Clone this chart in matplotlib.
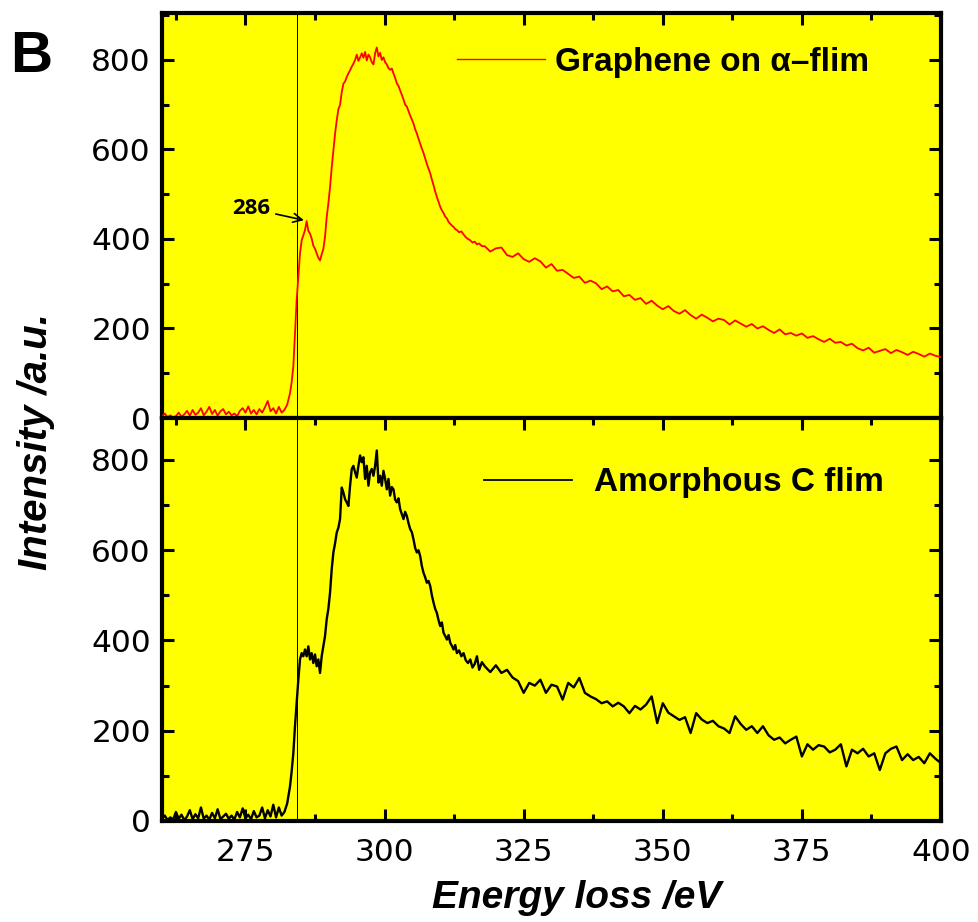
"""
EELS carbon K-edge: graphene on an amorphous-carbon film (top) vs. the bare
amorphous C film (bottom). Two stacked panels on a shared energy-loss axis.
Values were read off the published figure by eye.
"""
import matplotlib
matplotlib.use("Agg")
import matplotlib.pyplot as plt
from matplotlib.lines import Line2D
from matplotlib.ticker import MultipleLocator

# ----------------------------------------------------------------------------
# Energy grids (eV): pre-edge baseline, edge + main peak, post-peak tail
# ----------------------------------------------------------------------------
base_ev = [260.0, 260.5, 261.0, 261.5, 262.0, 262.5, 263.0, 263.5, 264.0, 264.5,
           265.0, 265.5, 266.0, 266.5, 267.0, 267.5, 268.0, 268.5, 269.0, 269.5,
           270.0, 270.5, 271.0, 271.5, 272.0, 272.5, 273.0, 273.5, 274.0, 274.5,
           275.0, 275.5, 276.0, 276.5, 277.0, 277.5, 278.0, 278.5, 279.0, 279.5,
           280.0, 280.5, 281.0, 281.5]
edge_ev = [282.0, 282.5,
           283.0, 283.3, 283.6, 283.9, 284.2, 284.5, 284.8, 285.1, 285.4, 285.7,
           286.0, 286.3, 286.6, 286.9, 287.2, 287.5, 287.8, 288.1, 288.4, 288.7,
           289.0, 289.3, 289.6, 289.9, 290.2, 290.5, 290.8, 291.1, 291.4, 291.7,
           292.0, 292.3, 292.6, 292.9, 293.2, 293.5, 293.8, 294.1, 294.4, 294.7,
           295.0, 295.3, 295.6, 295.9, 296.2, 296.5, 296.8, 297.1, 297.4, 297.7,
           298.0, 298.3, 298.6, 298.9, 299.2, 299.5, 299.8, 300.1, 300.4, 300.7,
           301.0, 301.3, 301.6, 301.9, 302.2, 302.5, 302.8, 303.1, 303.4, 303.7,
           304.0, 304.3, 304.6, 304.9, 305.2, 305.5, 305.8, 306.1, 306.4, 306.7,
           307.0, 307.3, 307.6, 307.9, 308.2, 308.5, 308.8, 309.1, 309.4, 309.7,
           310.0, 310.3, 310.6, 310.9, 311.2, 311.5, 311.8, 312.1, 312.4, 312.7,
           313.0, 313.4, 313.8, 314.2, 314.6, 315.0, 315.4, 315.8, 316.2, 316.6,
           317.0, 317.5]
tail_ev = [318, 319, 320, 321, 322, 323, 324, 325, 326, 327,
           328, 329, 330, 331, 332, 333, 334, 335, 336, 337,
           338, 339, 340, 341, 342, 343, 344, 345, 346, 347,
           348, 349, 350, 351, 352, 353, 354, 355, 356, 357,
           358, 359, 360, 361, 362, 363, 364, 365, 366, 367,
           368, 369, 370, 371, 372, 373, 374, 375, 376, 377,
           378, 379, 380, 381, 382, 383, 384, 385, 386, 387,
           388, 389, 390, 391, 392, 393, 394, 395, 396, 397,
           398, 399, 400]

# Graphene on alpha-film (red, top panel)
gr_base = [3, 10, 2, 6, 1, 4, 12, 3, 8, 16,
           5, 18, 7, 12, 22, 6, 14, 25, 9, 18,
           5, 15, 20, 8, 14, 6, 10, 4, 16, 22,
           12, 26, 10, 18, 8, 20, 12, 24, 38, 15,
           22, 10, 25, 12]
gr_edge = [18, 30,
           55, 80, 115, 189, 263, 315, 368, 397, 408, 420,
           440, 418, 412, 401, 385, 378, 368, 358, 352, 366,
           378, 405, 449, 480, 516, 560, 598, 635, 665, 690,
           700, 728, 747, 752, 762, 770, 777, 785, 792, 800,
           812, 798, 806, 815, 805, 818, 799, 812, 806, 795,
           790, 815, 828, 808, 816, 800, 806, 795, 790, 782,
           778, 781, 770, 760, 748, 742, 732, 722, 712, 700,
           696, 686, 676, 667, 658, 645, 636, 624, 613, 602,
           592, 580, 568, 557, 547, 533, 520, 506, 494, 483,
           472, 464, 458, 450, 446, 438, 434, 430, 427, 422,
           420, 415, 417, 410, 404, 400, 397, 392, 394, 388,
           390, 384]
gr_tail = [384, 372, 379, 381, 364, 360, 368, 355, 349, 357,
           350, 336, 344, 329, 331, 322, 313, 316, 302, 307,
           301, 288, 294, 283, 286, 272, 275, 264, 268, 255,
           262, 251, 243, 250, 239, 233, 241, 230, 222, 231,
           224, 216, 222, 219, 209, 218, 211, 204, 210, 200,
           205, 197, 190, 198, 187, 190, 184, 189, 179, 183,
           176, 170, 177, 168, 170, 162, 166, 156, 151, 157,
           146, 150, 154, 145, 152, 147, 141, 148, 143, 137,
           144, 139, 136]

# Amorphous C film (black, bottom panel)
ac_base = [4, 12, 2, 8, 3, 20, 5, 14, 2, 10,
           24, 4, 15, 6, 30, 5, 12, 3, 18, 6,
           26, 4, 10, 16, 5, 12, 3, 20, 8, 28,
           6, 14, 4, 22, 8, 12, 30, 6, 24, 10,
           36, 8, 30, 12]
ac_edge = [20, 39,
           76, 110, 150, 210, 261, 313, 358, 372, 365, 380,
           365, 387, 358, 372, 350, 369, 343, 358, 328, 365,
           387, 410, 447, 470, 506, 558, 595, 615, 639, 650,
           669, 739, 728, 713, 706, 698, 743, 780, 787, 773,
           761, 787, 810, 795, 806, 758, 787, 743, 773, 780,
           765, 787, 821, 750, 765, 743, 776, 758, 735, 758,
           721, 740, 735, 712, 706, 715, 691, 680, 669, 685,
           676, 660, 647, 640, 624, 605, 595, 600, 587, 565,
           550, 540, 528, 532, 521, 500, 484, 470, 461, 445,
           432, 440, 417, 410, 402, 412, 395, 388, 380, 390,
           372, 378, 365, 372, 356, 350, 358, 340, 348, 365,
           335, 352]
ac_tail = [343, 330, 345, 328, 335, 318, 310, 284, 306, 300,
           313, 284, 302, 298, 269, 306, 296, 317, 284, 276,
           270, 261, 265, 254, 262, 254, 239, 255, 247, 258,
           276, 217, 261, 240, 232, 224, 230, 195, 239, 225,
           217, 222, 210, 205, 195, 232, 215, 202, 210, 195,
           210, 190, 180, 185, 172, 180, 187, 143, 170, 158,
           168, 165, 152, 158, 170, 121, 158, 150, 160, 143,
           150, 113, 150, 160, 165, 135, 148, 135, 142, 128,
           150, 138, 128]

energy = base_ev + edge_ev + tail_ev
graphene = gr_base + gr_edge + gr_tail
amorphous = ac_base + ac_edge + ac_tail
assert len(energy) == len(graphene) == len(amorphous)

onset_ev = 284.3          # thin vertical guide through both panels
peak_label, peak_xy, peak_text_xy = "286", (285.5, 442), (272.6, 468)

YELLOW = "#ffff00"
RED = "#ff0000"

# ----------------------------------------------------------------------------
# Figure
# ----------------------------------------------------------------------------
W, H = 979, 922
fig = plt.figure(figsize=(W / 100, H / 100), dpi=100)
left, right = 162 / W, 941 / W
ax1 = fig.add_axes([left, 1 - 418 / H, right - left, (418 - 13) / H])
ax2 = fig.add_axes([left, 1 - 821 / H, right - left, (821 - 418) / H], sharex=ax1)

ax1.plot(energy, graphene, color=RED, lw=1.3, zorder=3)
ax2.plot(energy, amorphous, color="black", lw=1.7, zorder=3)

for ax in (ax1, ax2):
    ax.set_facecolor(YELLOW)
    ax.axvline(onset_ev, color="black", lw=0.7, zorder=2)
    for sp in ax.spines.values():
        sp.set_linewidth(3)
    ax.xaxis.set_major_locator(MultipleLocator(25))
    ax.xaxis.set_minor_locator(MultipleLocator(12.5))
    ax.yaxis.set_major_locator(MultipleLocator(200))
    ax.yaxis.set_minor_locator(MultipleLocator(100))
    ax.tick_params(which="both", direction="in", top=True, right=True,
                   width=2.2, labelsize=22.5, pad=8)
    ax.tick_params(which="major", length=8.5)
    ax.tick_params(which="minor", length=5)

ax1.set_xlim(260, 400)
ax1.set_ylim(0, 905)
ax2.set_ylim(0, 893)
ax1.tick_params(axis="x", which="both", bottom=False, labelbottom=False)
ax2.tick_params(axis="x", which="both", pad=12)

# peak marker on the graphene spectrum
ax1.annotate(peak_label, xy=peak_xy, xytext=peak_text_xy, ha="left", va="center",
             fontsize=16, weight="bold", family=["Open Sans", "DejaVu Sans"],
             arrowprops=dict(arrowstyle="->", color="black", lw=1.2,
                             shrinkA=2, shrinkB=0))

# legends (one per panel)
leg_font = dict(family=["Liberation Sans", "DejaVu Sans"], weight="bold", size=24)
ax1.legend([Line2D([], [], color=RED, lw=1.0)], ["Graphene on α–flim"],
           loc="center", bbox_to_anchor=(0.643, 0.879), frameon=False,
           prop=leg_font, handlelength=2.64, handletextpad=0.3,
           borderpad=0, borderaxespad=0)
ax2.legend([Line2D([], [], color="black", lw=1.3)], ["Amorphous C flim"],
           loc="center", bbox_to_anchor=(0.670, 0.839), frameon=False,
           prop=leg_font, handlelength=2.64, handletextpad=0.66,
           borderpad=0, borderaxespad=0)

# axis titles and panel letter
lab_font = dict(family=["Liberation Sans", "DejaVu Sans"], weight="bold", style="italic")
fig.text(577 / W, 1 - 908 / H, "Energy loss /eV", ha="center", va="baseline",
         fontsize=28, **lab_font)
fig.text(36 / W, 1 - 442 / H, "Intensity /a.u.", ha="center", va="center",
         rotation=90, fontsize=29, **lab_font)
fig.text(31 / W, 1 - 57 / H, "B", ha="center", va="center", fontsize=42,
         weight="bold", family=["Liberation Sans", "DejaVu Sans"])

fig.savefig("out.png", dpi=100)
